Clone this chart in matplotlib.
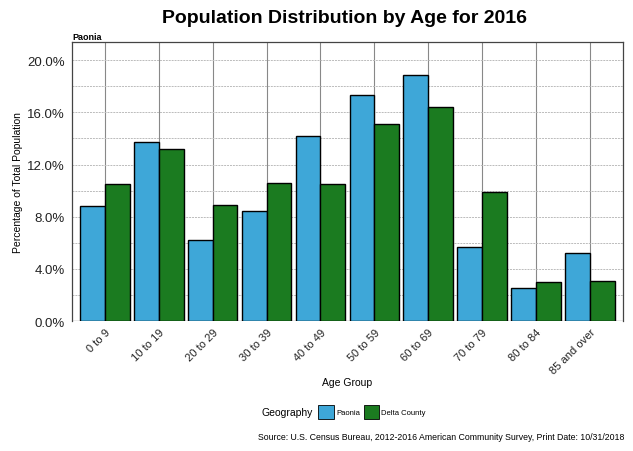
import matplotlib
matplotlib.use("Agg")
import matplotlib.pyplot as plt
from matplotlib.patches import Patch
from matplotlib.ticker import FuncFormatter, MultipleLocator
import numpy as np

plt.rcParams['font.family'] = ['Liberation Sans', 'DejaVu Sans']

age_groups = ["0 to 9", "10 to 19", "20 to 29", "30 to 39", "40 to 49",
              "50 to 59", "60 to 69", "70 to 79", "80 to 84", "85 and over"]
paonia = [8.8, 13.7, 6.2, 8.4, 14.2, 17.3, 18.9, 5.7, 2.5, 5.2]
delta_county = [10.5, 13.2, 8.9, 10.6, 10.5, 15.1, 16.4, 9.9, 3.0, 3.1]
series_names = ["Paonia", "Delta County"]
y_ticks = [0, 4, 8, 12, 16, 20]

blue = "#3ea7d8"
green = "#1b7b20"

fig = plt.figure(figsize=(6.33, 4.52), dpi=100)
ax = fig.add_axes([0.1137, 0.2876, 0.8703, 0.6173])

x = np.arange(len(age_groups))
w = 0.46
ax.bar(x - w / 2, paonia, width=w, color=blue, edgecolor="black", linewidth=1.0, zorder=3)
ax.bar(x + w / 2, delta_county, width=w, color=green, edgecolor="black", linewidth=1.0, zorder=3)

ax.set_xlim(-0.61, len(age_groups) - 1 + 0.61)
ax.set_ylim(0, 21.4)
ax.set_yticks(y_ticks)
ax.yaxis.set_minor_locator(MultipleLocator(2))
ax.yaxis.set_major_formatter(FuncFormatter(lambda v, p: f"{v:.1f}%"))
ax.grid(axis="y", which="both", color="#bbbbbb", linestyle=(0, (2, 1)), linewidth=0.7, zorder=0)
ax.set_xticks(x)
ax.grid(axis="x", which="major", color="#888888", linewidth=0.8, zorder=0)
ax.set_xticklabels(age_groups, rotation=45, ha="right", rotation_mode="anchor", fontsize=8)
ax.tick_params(axis="x", length=0, pad=4)
ax.tick_params(axis="y", which="both", length=0, labelsize=9.5, pad=5, colors="#222222")
ax.tick_params(axis="x", colors="#222222")

for side in ["left", "right", "top", "bottom"]:
    ax.spines[side].set_color("#444444")
    ax.spines[side].set_linewidth(0.9)
ax.spines["bottom"].set_visible(False)
ax.axhline(0, color="#666666", linewidth=0.9, zorder=2)

ax.set_ylabel("Percentage of Total Population", fontsize=7.5, labelpad=3)
ax.set_xlabel("Age Group", fontsize=7.5, labelpad=1)

fig.text(0.545, 0.96, "Population Distribution by Age for 2016", ha="center", va="center",
         fontsize=14, fontweight="bold")
fig.text(0.1137, 0.918, "Paonia", ha="left", va="center", fontsize=6.5, fontweight="bold")

fig.text(0.495, 0.086, "Geography", ha="right", va="center", fontsize=7.5)
handles = [Patch(facecolor=blue, edgecolor="black", linewidth=0.6),
           Patch(facecolor=green, edgecolor="black", linewidth=0.6)]
fig.legend(handles, series_names, loc="center left", bbox_to_anchor=(0.497, 0.086), ncol=2,
           frameon=False, fontsize=5.5, handlelength=2.0, handleheight=2.3,
           handletextpad=0.3, columnspacing=0.5, borderpad=0)

fig.text(0.986, 0.033,
         "Source: U.S. Census Bureau, 2012-2016 American Community Survey, Print Date: 10/31/2018",
         ha="right", va="center", fontsize=6.3)

fig.savefig("out.png", dpi=100)
